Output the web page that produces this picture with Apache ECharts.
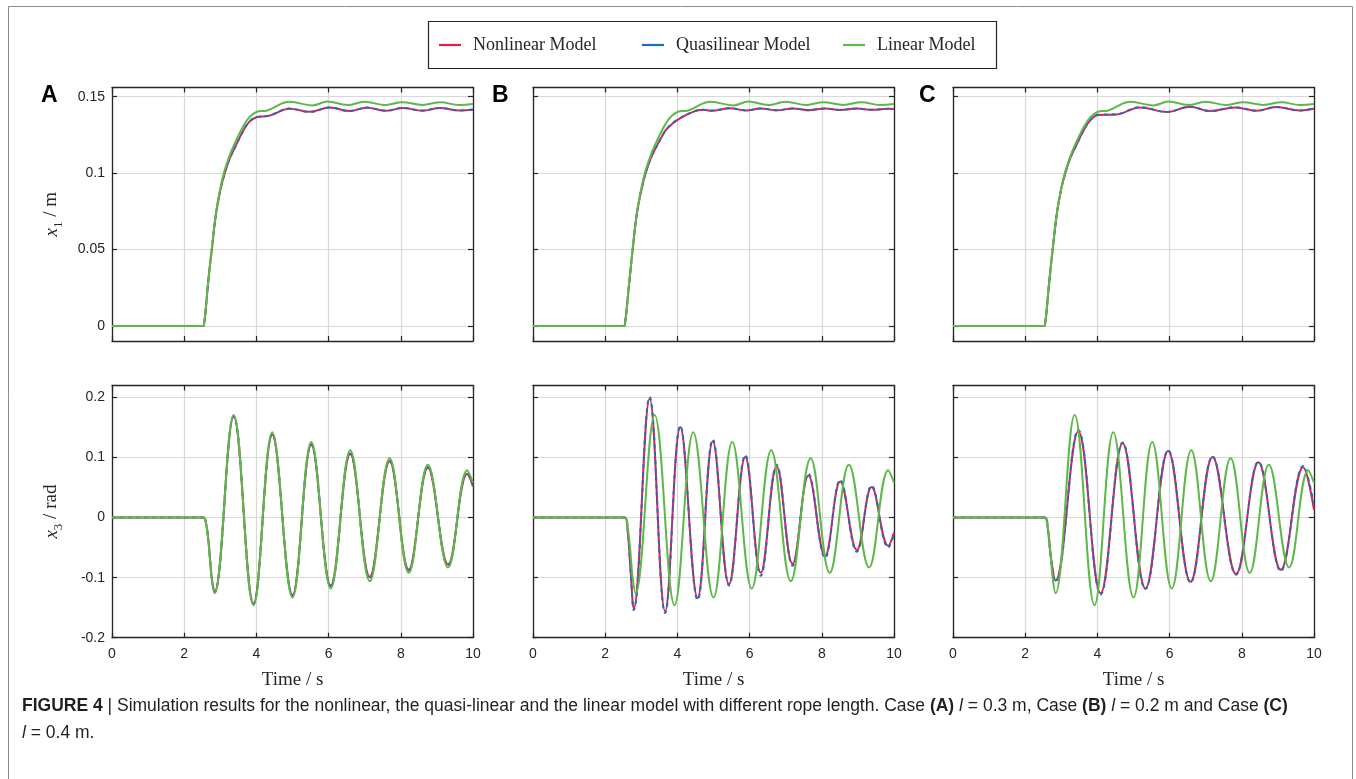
<!DOCTYPE html>
<html>
<head>
<meta charset="utf-8">
<title>Figure 4</title>
<script src="https://cdn.jsdelivr.net/npm/echarts@6/dist/echarts.min.js"></script>
<style>
html, body { margin: 0; padding: 0; background: #fff; }
#main { width: 1356px; height: 779px; }
</style>
</head>
<body>
<div id="main"></div>
<script>
// values, [time in s, value]

// x1 / m, cart position (top row)
var linX1 = [[0,0],[2.52,0],[2.56,0.003],[2.6,0.012],[2.65,0.025],[2.7,0.037],[2.77,0.052],[2.88,0.074],[3.0,0.09],[3.11,0.101],[3.25,0.111],[3.39,0.119],[3.62,0.13],[3.8,0.1365],[4.0,0.14],[4.3,0.141],[4.93,0.1466],[5.55,0.1443],[5.97,0.1468],[6.52,0.1445],[6.99,0.1466],[7.58,0.1446],[8.04,0.1464],[8.6,0.1446],[9.1,0.1464],[9.61,0.1445],[10,0.1452]];
var nonAX1 = [[0,0],[2.52,0],[2.56,0.003],[2.6,0.012],[2.65,0.025],[2.7,0.037],[2.77,0.051],[2.88,0.073],[3.0,0.089],[3.11,0.099],[3.25,0.109],[3.39,0.116],[3.62,0.127],[3.8,0.1335],[4.0,0.1365],[4.35,0.1375],[4.92,0.1421],[5.48,0.1401],[6.03,0.143],[6.58,0.1406],[7.05,0.1428],[7.6,0.1408],[8.06,0.1426],[8.6,0.1408],[9.08,0.1426],[9.63,0.141],[10,0.1415]];
var quasiAX1 = [[0,0],[2.52,0],[2.56,0.003],[2.6,0.012],[2.65,0.025],[2.7,0.037],[2.77,0.051],[2.88,0.073],[3.0,0.089],[3.11,0.099],[3.25,0.109],[3.39,0.116],[3.62,0.127],[3.8,0.1335],[4.0,0.1366],[4.35,0.1376],[4.92,0.1422],[5.48,0.1401],[6.03,0.143],[6.58,0.1406],[7.05,0.1429],[7.6,0.1408],[8.06,0.1427],[8.6,0.1409],[9.08,0.1426],[9.63,0.141],[10,0.1416]];
var nonBX1 = [[0,0],[2.51,0],[2.56,0.004],[2.6,0.0126],[2.69,0.034],[2.77,0.052],[2.88,0.074],[3.06,0.095],[3.25,0.109],[3.39,0.116],[3.62,0.126],[3.71,0.129],[3.99,0.1347],[4.45,0.1402],[4.7,0.1415],[4.95,0.1408],[5.45,0.1424],[5.9,0.141],[6.3,0.1423],[6.75,0.1411],[7.2,0.1423],[7.63,0.1412],[8.1,0.1423],[8.5,0.1413],[8.97,0.1422],[9.4,0.1414],[9.85,0.1421],[10,0.1419]];
var quasiBX1 = [[0,0],[2.51,0],[2.56,0.004],[2.6,0.0126],[2.69,0.034],[2.77,0.052],[2.88,0.074],[3.06,0.095],[3.25,0.109],[3.39,0.116],[3.62,0.126],[3.71,0.1292],[3.99,0.1348],[4.45,0.1403],[4.7,0.1415],[4.95,0.1409],[5.45,0.1424],[5.9,0.141],[6.3,0.1423],[6.75,0.1411],[7.2,0.1423],[7.63,0.1412],[8.1,0.1423],[8.5,0.1413],[8.97,0.1422],[9.4,0.1414],[9.85,0.1421],[10,0.1419]];
var nonCX1 = [[0,0],[2.52,0],[2.56,0.003],[2.6,0.012],[2.65,0.025],[2.7,0.037],[2.77,0.052],[2.88,0.074],[3.0,0.09],[3.11,0.1],[3.25,0.11],[3.39,0.117],[3.62,0.128],[3.8,0.1345],[4.02,0.138],[4.53,0.1384],[5.18,0.143],[5.92,0.14],[6.56,0.1434],[7.12,0.1406],[7.81,0.143],[8.41,0.1408],[8.96,0.1432],[9.61,0.141],[10,0.1421]];
var quasiCX1 = [[0,0],[2.52,0],[2.56,0.003],[2.6,0.012],[2.65,0.025],[2.7,0.037],[2.77,0.052],[2.88,0.074],[3.0,0.09],[3.11,0.1],[3.25,0.11],[3.39,0.117],[3.62,0.128],[3.8,0.1346],[4.02,0.1381],[4.53,0.1385],[5.18,0.1431],[5.92,0.14],[6.56,0.1434],[7.12,0.1406],[7.81,0.1431],[8.41,0.1408],[8.96,0.1432],[9.61,0.141],[10,0.1422]];

// x3 / rad, rope angle (bottom row)
var linX3 = [[0,0],[2.53,0],[2.6,-0.008],[2.68,-0.045],[2.76,-0.1],[2.84,-0.126],[3.37,0.171],[3.92,-0.146],[4.44,0.142],[5.0,-0.133],[5.52,0.126],[6.06,-0.118],[6.6,0.112],[7.14,-0.106],[7.69,0.099],[8.22,-0.092],[8.75,0.088],[9.31,-0.083],[9.84,0.079],[10,0.058]];
var nonAX3 = [[0,0],[2.53,0],[2.6,-0.008],[2.68,-0.044],[2.76,-0.099],[2.84,-0.124],[3.37,0.168],[3.92,-0.143],[4.44,0.138],[5.0,-0.129],[5.52,0.121],[6.06,-0.113],[6.6,0.106],[7.14,-0.099],[7.69,0.094],[8.22,-0.087],[8.75,0.083],[9.31,-0.078],[9.84,0.073],[10,0.052]];
var quasiAX3 = [[0,0],[2.53,0],[2.6,-0.008],[2.68,-0.044],[2.76,-0.099],[2.84,-0.125],[3.37,0.169],[3.92,-0.144],[4.44,0.139],[5.0,-0.13],[5.52,0.122],[6.06,-0.114],[6.6,0.107],[7.14,-0.1],[7.69,0.095],[8.22,-0.088],[8.75,0.084],[9.31,-0.079],[9.84,0.074],[10,0.053]];
var nonBX3 = [[0,0],[2.55,0],[2.62,-0.02],[2.7,-0.085],[2.79,-0.151],[3.23,0.198],[3.66,-0.156],[4.08,0.151],[4.56,-0.134],[4.98,0.127],[5.43,-0.111],[5.88,0.101],[6.31,-0.092],[6.75,0.085],[7.19,-0.077],[7.63,0.07],[8.09,-0.064],[8.51,0.06],[8.97,-0.054],[9.38,0.051],[9.84,-0.047],[10,-0.025]];
var quasiBX3 = [[0,0],[2.55,0],[2.62,-0.02],[2.7,-0.086],[2.79,-0.154],[3.23,0.201],[3.66,-0.159],[4.08,0.153],[4.56,-0.137],[4.98,0.13],[5.43,-0.113],[5.88,0.104],[6.31,-0.097],[6.75,0.088],[7.19,-0.08],[7.63,0.073],[8.09,-0.067],[8.51,0.063],[8.97,-0.057],[9.38,0.053],[9.84,-0.05],[10,-0.027]];
var nonCX3 = [[0,0],[2.55,0],[2.62,-0.015],[2.72,-0.07],[2.84,-0.105],[3.47,0.144],[4.09,-0.126],[4.7,0.124],[5.33,-0.118],[5.96,0.111],[6.58,-0.107],[7.19,0.101],[7.84,-0.094],[8.46,0.092],[9.08,-0.087],[9.7,0.084],[10,0.013]];
var quasiCX3 = [[0,0],[2.55,0],[2.62,-0.015],[2.72,-0.071],[2.84,-0.107],[3.47,0.146],[4.09,-0.128],[4.7,0.125],[5.33,-0.119],[5.96,0.112],[6.58,-0.108],[7.19,0.102],[7.84,-0.095],[8.46,0.093],[9.08,-0.089],[9.7,0.086],[10,0.02]];

var timeMin = 0, timeMax = 10, timeStep = 2;
var x1Ticks = [0, 0.05, 0.1, 0.15];
var x3Ticks = [-0.2, -0.1, 0, 0.1, 0.2];
var modelNames = ['Nonlinear Model', 'Quasilinear Model', 'Linear Model'];
var panelLetters = ['A', 'B', 'C'];

// panel order: top A,B,C then bottom A,B,C
var panelSeries = [
	[nonAX1, quasiAX1, linX1],
	[nonBX1, quasiBX1, linX1],
	[nonCX1, quasiCX1, linX1],
	[nonAX3, quasiAX3, linX3],
	[nonBX3, quasiBX3, linX3],
	[nonCX3, quasiCX3, linX3]
];

var colors = ['#e2214b', '#1b6fbf', '#5cb947'];
var ink = '#262626';
var serif = 'Liberation Serif';
var colLeft = [112, 533, 953];
var colWidth = 361;
var rows = [
	{ top: 87.5, height: 253.5, min: -0.0098, max: 0.156, ticks: x1Ticks, name: '{x|x}{s|1}{t| / m}' },
	{ top: 385.5, height: 252.2, min: -0.2, max: 0.22, ticks: x3Ticks, name: '{x|x}{s|3}{t| / rad}' }
];

var grid = [], xAxis = [], yAxis = [], series = [];
var nameRich = {
	x: { fontFamily: serif, fontStyle: 'italic', fontSize: 19, lineHeight: 27, color: ink },
	s: { fontFamily: serif, fontSize: 13, lineHeight: 13, verticalAlign: 'bottom', color: ink },
	t: { fontFamily: serif, fontSize: 19, lineHeight: 27, color: ink }
};

for (var r = 0; r < 2; r++) {
	for (var c = 0; c < 3; c++) {
		var i = r * 3 + c;
		var row = rows[r];
		grid.push({ left: colLeft[c], top: row.top, width: colWidth, height: row.height });

		// bottom and top time axes (box with inward ticks)
		xAxis.push({
			gridIndex: i, type: 'value', min: timeMin, max: timeMax, interval: timeStep, position: 'bottom',
			axisLine: { onZero: false, lineStyle: { color: ink, width: 1.3 } },
			axisTick: { inside: true, length: 5, lineStyle: { color: ink, width: 1.2 } },
			axisLabel: { show: r === 1, margin: 9, color: ink, fontSize: 14, fontFamily: 'Liberation Sans' },
			splitLine: { show: true, lineStyle: { color: '#d8d8d8', width: 1.2 } },
			name: r === 1 ? 'Time / s' : '', nameLocation: 'middle', nameGap: 33,
			nameTextStyle: { fontFamily: serif, fontSize: 19, color: ink }
		});
		xAxis.push({
			gridIndex: i, type: 'value', min: timeMin, max: timeMax, interval: timeStep, position: 'top',
			axisLine: { onZero: false, lineStyle: { color: ink, width: 1.3 } },
			axisTick: { inside: true, length: 5, lineStyle: { color: ink, width: 1.2 } },
			axisLabel: { show: false }, splitLine: { show: false }
		});

		yAxis.push({
			gridIndex: i, type: 'value', min: row.min, max: row.max, position: 'left',
			axisLine: { onZero: false, lineStyle: { color: ink, width: 1.3 } },
			axisTick: { inside: true, length: 5, customValues: row.ticks, lineStyle: { color: ink, width: 1.2 } },
			axisLabel: { show: c === 0, customValues: row.ticks, margin: 7, color: ink, fontSize: 14, fontFamily: 'Liberation Sans' },
			splitLine: { show: true, lineStyle: { color: '#d8d8d8', width: 1.2 } },
			name: c === 0 ? row.name : '', nameLocation: 'middle', nameGap: 47,
			nameTextStyle: { rich: nameRich }
		});
		yAxis.push({
			gridIndex: i, type: 'value', min: row.min, max: row.max, position: 'right',
			axisLine: { onZero: false, lineStyle: { color: ink, width: 1.3 } },
			axisTick: { inside: true, length: 5, customValues: row.ticks, lineStyle: { color: ink, width: 1.2 } },
			axisLabel: { show: false }, splitLine: { show: false }
		});

		for (var k = 0; k < 3; k++) {
			series.push({
				name: modelNames[k], type: 'line', xAxisIndex: i * 2, yAxisIndex: i * 2,
				data: panelSeries[i][k], showSymbol: false, symbol: 'none', smooth: 0.4,
				color: colors[k],
				lineStyle: { color: colors[k], width: 2, type: k === 1 ? [4, 4] : 'solid' },
				z: 2 + k
			});
		}
	}
}

var legendLeft = [439, 642, 843];
var legend = modelNames.map(function(n, k) {
	return {
		data: [n], left: legendLeft[k], top: 36, padding: 0, selectedMode: false,
		icon: 'rect', itemWidth: 22, itemHeight: 2.2,
		itemStyle: { borderWidth: 0 },
		textStyle: { fontFamily: serif, fontSize: 18, color: ink, padding: [0, 0, 0, 7] }
	};
});

var graphic = [
	{ type: 'polyline', silent: true, shape: { points: [[8.5, 779], [8.5, 6.5], [1352.5, 6.5], [1352.5, 779]] },
	  style: { stroke: '#8c8c8c', fill: null, lineWidth: 1 } },
	{ type: 'rect', silent: true, shape: { x: 428.5, y: 21.5, width: 568, height: 47 },
	  style: { stroke: ink, fill: null, lineWidth: 1.2 } },
	{ type: 'text', left: 22, top: 697, silent: true, style: {
		text: '{b|FIGURE 4} | Simulation results for the nonlinear, the quasi-linear and the linear model with different rope length. Case {b|(A)} {i|l} = 0.3 m, Case {b|(B)} {i|l} = 0.2 m and Case {b|(C)}',
		font: '17.5px "Liberation Sans"', fill: '#231f20',
		rich: { b: { fontWeight: 'bold', fontSize: 17.5, fontFamily: 'Liberation Sans' }, i: { fontStyle: 'italic', fontSize: 17.5, fontFamily: 'Liberation Sans' } }
	} },
	{ type: 'text', left: 22, top: 724, silent: true, style: {
		text: '{i|l} = 0.4 m.',
		font: '17.5px "Liberation Sans"', fill: '#231f20',
		rich: { i: { fontStyle: 'italic', fontSize: 17.5, fontFamily: 'Liberation Sans' } }
	} }
];
var letterX = [41, 492, 919];
panelLetters.forEach(function(t, k) {
	graphic.push({ type: 'text', left: letterX[k], top: 84, silent: true,
		style: { text: t, font: 'bold 23px "Liberation Sans"', fill: '#000' } });
});

var chart = echarts.init(document.getElementById('main'));
chart.setOption({
	animation: false,
	backgroundColor: '#fff',
	grid: grid,
	xAxis: xAxis,
	yAxis: yAxis,
	legend: legend,
	graphic: graphic,
	series: series
});
</script>
</body>
</html>
